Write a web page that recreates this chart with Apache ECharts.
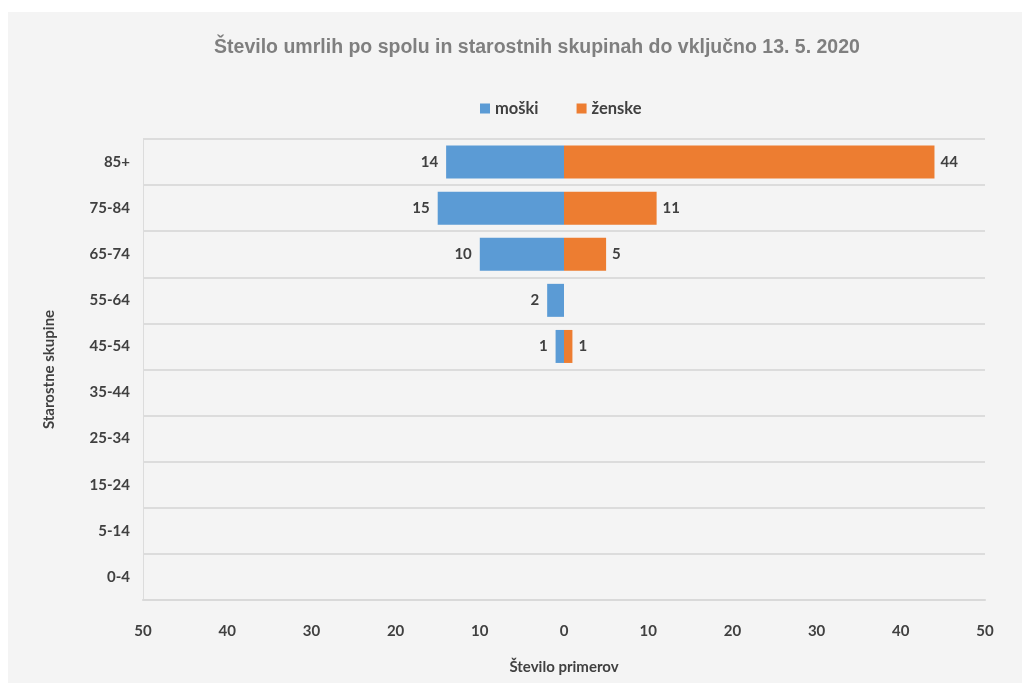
<!DOCTYPE html>
<html>
<head>
<meta charset="utf-8">
<script src="https://cdn.jsdelivr.net/npm/echarts@6/dist/echarts.min.js"></script>
<style>
  html, body { margin: 0; padding: 0; background: #ffffff; }
  #chart { position: absolute; left: 8px; top: 12px; width: 1014px; height: 671px; }
</style>
</head>
<body>
<div id="chart"></div>
<script>
// Age groups, listed bottom to top on the category axis
const ageGroups = ['0-4', '5-14', '15-24', '25-34', '35-44', '45-54', '55-64', '65-74', '75-84', '85+'];
// Deaths by sex for each age group
const male   = [0, 0, 0, 0, 0, 1, 2, 10, 15, 14];
const female = [0, 0, 0, 0, 0, 1, 0, 5, 11, 44];
const axisTicks = [-50, -40, -30, -20, -10, 0, 10, 20, 30, 40, 50];

const textColor = '#404040';
const labelFont = { fontFamily: 'Lato', fontWeight: 'bold', fontSize: 15, color: textColor };

const chart = echarts.init(document.getElementById('chart'));
chart.setOption({
  backgroundColor: '#f4f4f4',
  animation: false,
  title: {
    text: 'Število umrlih po spolu in starostnih skupinah do vključno 13. 5. 2020',
    left: 524,
    top: 21,
    textAlign: 'center',
    textStyle: { fontFamily: 'Liberation Sans', fontWeight: 'bold', fontSize: 19.5, color: '#7f7f7f' }
  },
  legend: {
    left: 467,
    top: 83,
    itemWidth: 10,
    itemHeight: 10,
    itemGap: 38,
    icon: 'rect',
    textStyle: Object.assign({}, labelFont, { fontSize: 16.5 }),
    data: ['moški', 'ženske']
  },
  grid: { left: 135, right: 37, top: 127, bottom: 83 },
  xAxis: {
    type: 'value',
    min: axisTicks[0],
    max: axisTicks[axisTicks.length - 1],
    interval: 10,
    name: 'Število primerov',
    nameLocation: 'middle',
    nameGap: 60,
    nameTextStyle: Object.assign({}, labelFont),
    axisLine: { show: true, lineStyle: { color: '#d9d9d9', width: 2 } },
    axisTick: { show: false },
    splitLine: { show: false },
    axisLabel: Object.assign({ margin: 24, formatter: v => String(Math.abs(v)) }, labelFont)
  },
  yAxis: {
    type: 'category',
    data: ageGroups,
    name: 'Starostne skupine',
    nameLocation: 'middle',
    nameGap: 86,
    nameTextStyle: Object.assign({}, labelFont),
    axisLine: { show: true, onZero: false, lineStyle: { color: '#dcdcdc', width: 1 } },
    axisTick: { show: false },
    splitLine: { show: true, lineStyle: { color: '#dcdcdc', width: 2 } },
    axisLabel: Object.assign({ margin: 13 }, labelFont)
  },
  series: [
    {
      name: 'moški',
      type: 'bar',
      barWidth: 33,
      barGap: '-100%',
      itemStyle: { color: '#5b9bd5' },
      data: male.map(v => -v),
      label: Object.assign({
        show: true,
        position: 'left',
        distance: 8,
        formatter: p => (p.value === 0 ? '' : String(Math.abs(p.value)))
      }, labelFont)
    },
    {
      name: 'ženske',
      type: 'bar',
      barWidth: 33,
      itemStyle: { color: '#ed7d31' },
      data: female,
      label: Object.assign({
        show: true,
        position: 'right',
        distance: 6,
        formatter: p => (p.value === 0 ? '' : String(p.value))
      }, labelFont)
    }
  ]
});
</script>
</body>
</html>
